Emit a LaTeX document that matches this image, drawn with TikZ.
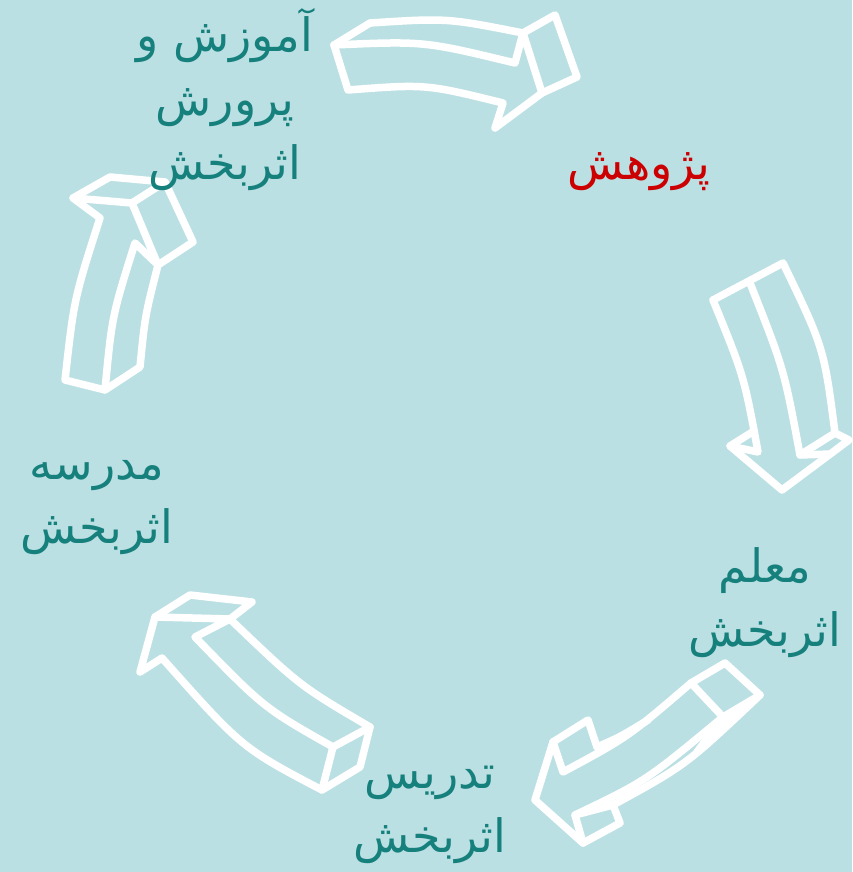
\documentclass[tikz,border=0pt]{standalone}
\usepackage{fontspec}
\newfontfamily\arabicfont[Script=Arabic]{DejaVu Sans}
\TeXXeTstate=1
\definecolor{bgteal}{RGB}{187,224,227}
\definecolor{labteal}{RGB}{22,128,124}
\definecolor{labred}{RGB}{204,0,0}
\newcommand{\fa}[1]{\beginR #1\endR}

\begin{document}
\begin{tikzpicture}[
  x=1pt, y=-1pt,
  blockarrow/.style={draw=white, line width=7.5pt, line join=round, line cap=round},
  stagetext/.style={font={\arabicfont\fontsize{46}{64}\selectfont}, text=labteal,
                    align=center, inner sep=0pt}
]
\fill[bgteal] (0,0) rectangle (852,872);
% top arrow (to the right)
\draw[blockarrow] (334,45) -- (370,23) .. controls (447,18) .. (523,33) -- (555,15)
  -- (577,77) -- (542,93) -- (495,128) -- (503,103) .. controls (426,84) .. (348,90) -- cycle;
\draw[blockarrow] (334,45) .. controls (424,41) .. (515,63) -- (523,33) -- (542,93);
% right arrow (down)
\draw[blockarrow] (713,300) -- (783,263) .. controls (824,348) .. (835,433) -- (849,440)
  -- (782,490) -- (730,446) -- (754,431);
\draw[blockarrow] (713,300) .. controls (744,376) .. (758,452) -- (730,446);
\draw[blockarrow] (750,283) .. controls (784,369) .. (800,455) -- (835,433);
\draw[blockarrow] (800,455) -- (830,454);
% bottom right arrow (down-left)
\draw[blockarrow] (691,683) -- (725,663) -- (760,695) .. controls (686,765) .. (613,805)
  -- (620,823) -- (583,843) -- (535,800) -- (553,742) -- (588,720) -- (597,747);
\draw[blockarrow] (691,683) -- (723,717) -- (760,695);
\draw[blockarrow] (723,717) .. controls (646,781) .. (575,815) -- (583,843);
\draw[blockarrow] (575,815) -- (613,805);
\draw[blockarrow] (691,683) .. controls (628,737) .. (563,772) -- (553,742);
\draw[blockarrow] (597,747) .. controls (620,737) .. (648,720);
\draw[blockarrow] (749,705) .. controls (718,724) .. (697,752);
% bottom left arrow (up-left)
\draw[blockarrow] (162,658) -- (140,672) -- (155,617) -- (190,595) -- (252,602) -- (230,619)
  .. controls (300,686) .. (370,727) -- (360,767) -- (322,790) .. controls (242,748) .. (162,658);
\draw[blockarrow] (155,617) -- (230,619) -- (195,637) .. controls (264,708) .. (333,747) -- (370,727);
\draw[blockarrow] (333,747) -- (322,790);
% left arrow (up)
\draw[blockarrow] (100,218) -- (73,198) -- (110,177) -- (165,182) -- (193,242) -- (158,265)
  .. controls (145,316) .. (140,367) -- (105,390) -- (65,380) .. controls (74,299) .. (100,218);
\draw[blockarrow] (73,198) -- (132,203) -- (165,182);
\draw[blockarrow] (132,203) -- (158,265) -- (135,243) .. controls (112,316) .. (105,390);
% labels
\node[stagetext] (amoozesh) at (225,100) {\fa{آموزش و}\\\fa{پرورش}\\\fa{اثربخش}};
\node[stagetext, text=labred] (pazhuhesh) at (639,172) {\fa{پژوهش}};
\node[stagetext] (moallem) at (765,603) {\fa{معلم}\\\fa{اثربخش}};
\node[stagetext] (tadris) at (430,815) {\fa{تدریس}\\\fa{اثربخش}};
\node[stagetext] (madrese) at (97,508) {\fa{مدرسه}\\\fa{اثربخش}};
\end{tikzpicture}
\end{document}
